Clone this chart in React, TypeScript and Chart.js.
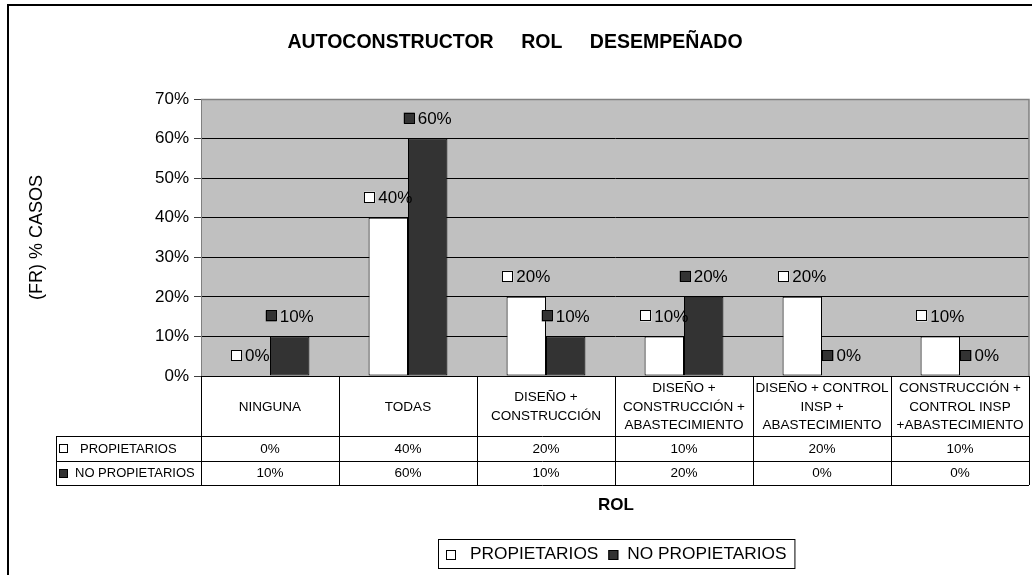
import React, { useEffect, useRef } from "react";
import { Chart, registerables } from "chart.js";

Chart.register(...registerables);

const categories: string[][] = [
  ["NINGUNA"],
  ["TODAS"],
  ["DISEÑO +", "CONSTRUCCIÓN"],
  ["DISEÑO +", "CONSTRUCCIÓN +", "ABASTECIMIENTO"],
  ["DISEÑO + CONTROL", "INSP +", "ABASTECIMIENTO"],
  ["CONSTRUCCIÓN +", "CONTROL INSP", "+ABASTECIMIENTO"],
];
const propietarios = [0, 40, 20, 10, 20, 10];
const noPropietarios = [10, 60, 10, 20, 0, 0];
const seriesNames = ["PROPIETARIOS", "NO PROPIETARIOS"];
const seriesColors = ["#FFFFFF", "#333333"];
const titleWords = ["AUTOCONSTRUCTOR", "ROL", "DESEMPEÑADO"];
const yTitle = "(FR) % CASOS";
const xTitle = "ROL";
const yMin = 0;
const yMax = 70;
const yStep = 10;

const FONT = '"Liberation Sans", Arial, sans-serif';

const decorPlugin = {
  id: "decor",
  beforeDraw(chart: any) {
    const { ctx, chartArea } = chart;
    ctx.save();
    ctx.fillStyle = "#FFFFFF";
    ctx.fillRect(0, 0, chart.width, chart.height);
    ctx.fillStyle = "#C0C0C0";
    ctx.fillRect(chartArea.left, chartArea.top, chartArea.right - chartArea.left, chartArea.bottom - chartArea.top);
    ctx.restore();
  },
  afterDraw(chart: any) {
    const { ctx, chartArea } = chart;
    const xScale = chart.scales.x;
    const L = chartArea.left;
    const R = chartArea.right;
    const B = chartArea.bottom;
    const T = chartArea.top;
    ctx.save();

    // plot area border (top & right)
    ctx.strokeStyle = "#808080";
    ctx.lineWidth = 1.5;
    ctx.beginPath();
    ctx.moveTo(L, T + 0.5);
    ctx.lineTo(R, T + 0.5);
    ctx.lineTo(R, B);
    ctx.stroke();

    // data labels
    ctx.font = "17px " + FONT;
    ctx.textBaseline = "middle";
    ctx.textAlign = "left";
    chart.data.datasets.forEach((ds: any, i: number) => {
      const meta = chart.getDatasetMeta(i);
      meta.data.forEach((el: any, j: number) => {
        const txt = ds.data[j] + "%";
        const w = ctx.measureText(txt).width;
        const key = 11;
        const gap = 3;
        const total = key + gap + w;
        const sx = el.x - total / 2;
        const cy = el.y - 20.5;
        ctx.fillStyle = seriesColors[i];
        ctx.fillRect(sx, cy - key / 2, key, key);
        ctx.strokeStyle = "#000";
        ctx.lineWidth = 1;
        ctx.strokeRect(Math.round(sx) + 0.5, Math.round(cy - key / 2) + 0.5, key - 1, key - 1);
        ctx.fillStyle = "#000";
        ctx.fillText(txt, sx + key + gap, cy + 1);
      });
    });

    // data table
    const n = categories.length;
    const colW = (R - L) / n;
    const catBottom = B + 60;
    const rowH = 24.5;
    const tableBottom = catBottom + rowH * 2;
    const hdrLeft = 56;
    ctx.strokeStyle = "#000";
    ctx.lineWidth = 1;
    ctx.beginPath();
    ctx.moveTo(L, Math.round(B) + 0.5);
    ctx.lineTo(R, Math.round(B) + 0.5);
    for (let r = 0; r <= 2; r++) {
      const y = Math.round(catBottom + r * rowH) + 0.5;
      ctx.moveTo(hdrLeft, y);
      ctx.lineTo(R, y);
    }
    ctx.moveTo(hdrLeft + 0.5, catBottom);
    ctx.lineTo(hdrLeft + 0.5, tableBottom);
    for (let c = 0; c <= n; c++) {
      const x = Math.round(L + c * colW) + 0.5;
      ctx.moveTo(x, B);
      ctx.lineTo(x, tableBottom);
    }
    ctx.stroke();

    ctx.fillStyle = "#000";
    ctx.font = "13.5px " + FONT;
    ctx.textAlign = "center";
    ctx.textBaseline = "middle";
    const lh = 18.5;
    categories.forEach((lines, j) => {
      const cx = xScale.getPixelForValue(j);
      const cy = (B + catBottom) / 2 + 1;
      lines.forEach((ln, k) => {
        ctx.fillText(ln, cx, cy + (k - (lines.length - 1) / 2) * lh);
      });
    });
    const rowsData = [propietarios, noPropietarios];
    rowsData.forEach((vals, r) => {
      const cy = catBottom + r * rowH + rowH / 2 + 1;
      ctx.font = "13.5px " + FONT;
      ctx.textAlign = "center";
      ctx.fillStyle = "#000";
      vals.forEach((v, j) => {
        ctx.fillText(v + "%", xScale.getPixelForValue(j), cy);
      });
      // row header
      ctx.fillStyle = seriesColors[r];
      ctx.fillRect(60, Math.round(cy - 4), 7, 7);
      ctx.strokeStyle = "#000";
      ctx.lineWidth = 1;
      ctx.strokeRect(59.5, Math.round(cy - 4) - 0.5, 8, 8);
      ctx.fillStyle = "#000";
      ctx.textAlign = "left";
      ctx.font = "13px " + FONT;
      ctx.fillText(seriesNames[r], r === 0 ? 80 : 75, cy);
    });

    // title
    ctx.font = "bold 19.5px " + FONT;
    ctx.textAlign = "left";
    ctx.textBaseline = "alphabetic";
    const wordGap = 27.5;
    const ws = titleWords.map((w) => ctx.measureText(w).width);
    const totalT = ws.reduce((a, b) => a + b, 0) + wordGap * (titleWords.length - 1);
    let tx = 515 - totalT / 2;
    titleWords.forEach((w, k) => {
      ctx.fillText(w, tx, 48);
      tx += ws[k] + wordGap;
    });

    // y title
    ctx.save();
    ctx.translate(37, (T + B) / 2);
    ctx.rotate(-Math.PI / 2);
    ctx.font = "18px " + FONT;
    ctx.textAlign = "center";
    ctx.textBaseline = "middle";
    ctx.fillText(yTitle, 0, 0);
    ctx.restore();

    // x title
    ctx.font = "bold 17px " + FONT;
    ctx.textAlign = "center";
    ctx.textBaseline = "middle";
    ctx.fillText(xTitle, (L + R) / 2 + 1, 505);

    // legend
    ctx.font = "17.3px " + FONT;
    const lw1 = ctx.measureText(seriesNames[0]).width;
    const lw2 = ctx.measureText(seriesNames[1]).width;
    const keyS = 10;
    const content = keyS + 14 + lw1 + 10 + keyS + 9 + lw2;
    const boxW = content + 16;
    const boxL = Math.round(616 - boxW / 2);
    const boxT = 539;
    const boxH = 29;
    ctx.strokeStyle = "#000";
    ctx.lineWidth = 1;
    ctx.strokeRect(boxL + 0.5, boxT + 0.5, boxW, boxH);
    const lcy = boxT + boxH / 2 + 1;
    let lx = boxL + 8;
    [0, 1].forEach((i) => {
      ctx.fillStyle = seriesColors[i];
      ctx.fillRect(lx, Math.round(lcy - keyS / 2), keyS, keyS);
      ctx.strokeStyle = "#000";
      ctx.strokeRect(lx + 0.5, Math.round(lcy - keyS / 2) + 0.5, keyS - 1, keyS - 1);
      lx += keyS + (i === 0 ? 14 : 9);
      ctx.fillStyle = "#000";
      ctx.textAlign = "left";
      ctx.fillText(seriesNames[i], lx, lcy);
      lx += (i === 0 ? lw1 : lw2) + 10;
    });

    // outer border
    ctx.strokeStyle = "#000";
    ctx.lineWidth = 2;
    ctx.beginPath();
    ctx.moveTo(8, chart.height);
    ctx.lineTo(8, 5);
    ctx.lineTo(chart.width, 5);
    ctx.stroke();

    ctx.restore();
  },
};

export default function App() {
  const ref = useRef<HTMLCanvasElement | null>(null);
  useEffect(() => {
    if (!ref.current) return;
    const chart = new Chart(ref.current, {
      type: "bar",
      data: {
        labels: categories.map((c) => c.join(" ")),
        datasets: [
          {
            label: seriesNames[0],
            data: propietarios,
            backgroundColor: seriesColors[0],
            borderColor: "#000",
            borderWidth: 1,
            borderSkipped: false,
            categoryPercentage: 2 / 3.5,
            barPercentage: 1,
          },
          {
            label: seriesNames[1],
            data: noPropietarios,
            backgroundColor: seriesColors[1],
            borderColor: "#000",
            borderWidth: 1,
            borderSkipped: false,
            categoryPercentage: 2 / 3.5,
            barPercentage: 1,
          },
        ],
      },
      options: {
        responsive: false,
        animation: false,
        devicePixelRatio: 1,
        layout: { padding: { left: 0, top: 99, right: 3, bottom: 199 } },
        plugins: {
          legend: { display: false },
          title: { display: false },
          tooltip: { enabled: false },
        },
        scales: {
          x: { display: false },
          y: {
            min: yMin,
            max: yMax,
            ticks: {
              stepSize: yStep,
              padding: 5,
              color: "#000",
              font: { family: FONT, size: 17 },
              callback: (v: any) => v + "%",
            },
            grid: {
              color: (c: any) => (c.tick && c.tick.value === yMax ? "#808080" : "#000"),
              tickColor: "#404040",
              tickLength: 7,
              lineWidth: 1,
            },
            border: { display: true, color: "#808080", width: 1 },
            afterFit: (scale: any) => {
              scale.width = 201;
            },
          },
        },
      },
      plugins: [decorPlugin],
    });
    return () => chart.destroy();
  }, []);
  return (
    <div style={{ position: "fixed", left: 0, top: 0, width: 1032, height: 575, background: "#fff" }}>
      <canvas ref={ref} width={1032} height={575} style={{ display: "block" }} />
    </div>
  );
}
